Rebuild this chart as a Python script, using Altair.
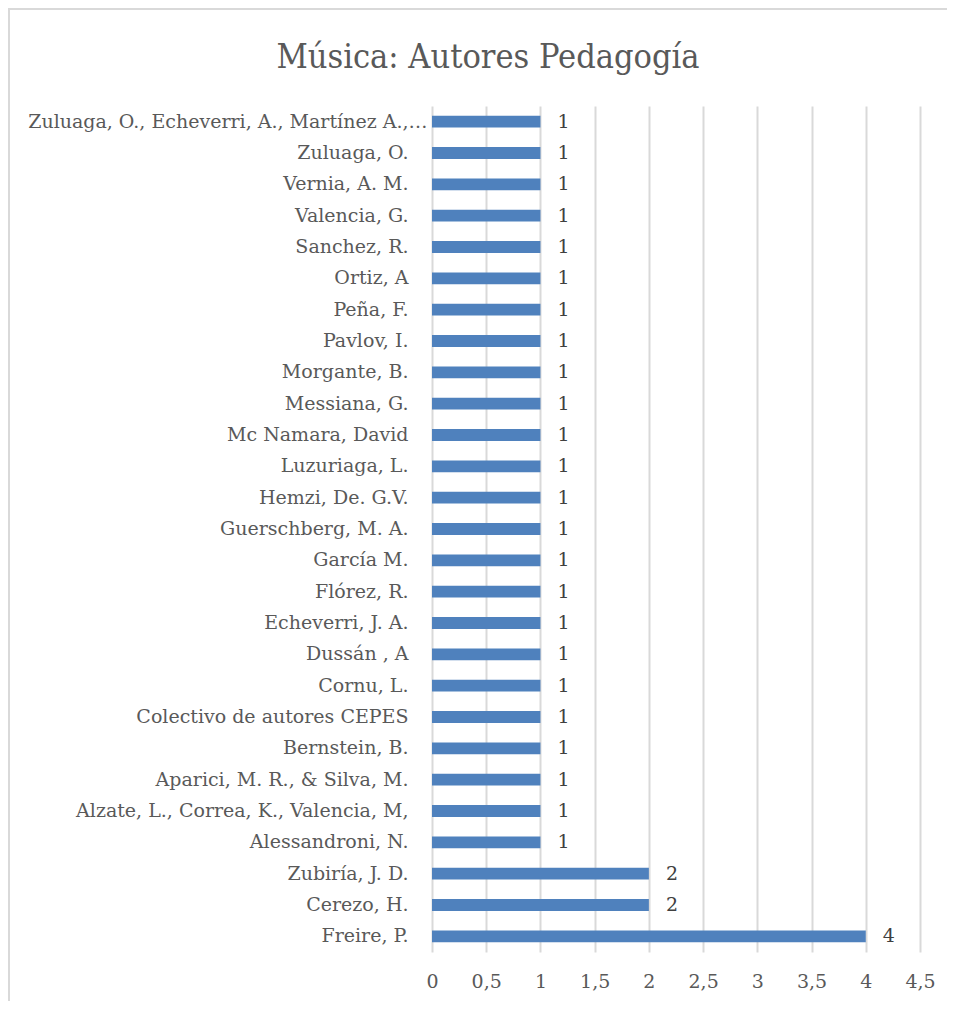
import altair as alt
import pandas as pd

authors = [
    "Zuluaga, O., Echeverri, A., Martínez A.,…",
    "Zuluaga, O.\u00a0",
    "Vernia, A. M.",
    "Valencia, G.",
    "Sanchez, R.",
    "Ortiz, A",
    "Peña, F.",
    "Pavlov, I.",
    "Morgante, B.",
    "Messiana, G.",
    "Mc Namara, David",
    "Luzuriaga, L.",
    "Hemzi, De. G.V.",
    "Guerschberg, M. A.\u00a0",
    "García M.",
    "Flórez, R.",
    "Echeverri, J. A.",
    "Dussán , A",
    "Cornu, L.",
    "Colectivo de autores CEPES",
    "Bernstein, B.",
    "Aparici, M. R., & Silva, M.",
    "Alzate, L., Correa, K., Valencia, M,",
    "Alessandroni, N.",
    "Zubiría, J. D.",
    "Cerezo, H.",
    "Freire, P.",
]
counts = [1, 1, 1, 1, 1, 1, 1, 1, 1, 1, 1, 1, 1, 1, 1, 1, 1, 1, 1, 1, 1, 1, 1, 1, 2, 2, 4]
x_ticks = [0, 0.5, 1, 1.5, 2, 2.5, 3, 3.5, 4, 4.5]
title_text = "Música: Autores Pedagogía"

df = pd.DataFrame({"author": authors, "count": counts})

SERIF = "DejaVu Serif"
GRID = "#d9d9d9"
FS = 19

y_enc = alt.Y(
    "author:N",
    sort=authors,
    scale=alt.Scale(paddingInner=0.62, paddingOuter=0.31),
    axis=alt.Axis(
        title=None,
        ticks=False,
        domain=False,
        labelFont=SERIF,
        labelFontSize=FS,
        labelColor="#595959",
        labelLimit=600,
        labelPadding={"condition": {"test": "indexof(datum.value, '…') >= 0", "value": 5}, "value": 24},
    ),
)
x_enc = alt.X(
    "count:Q",
    scale=alt.Scale(domain=[0, 4.5], nice=False),
    axis=alt.Axis(
        title=None,
        values=x_ticks,
        grid=True,
        gridColor=GRID,
        gridWidth=2,
        ticks=False,
        domain=False,
        labelFlush=False,
        labelFont=SERIF,
        labelFontSize=FS,
        labelColor="#595959",
        labelPadding=20,
        labelExpr="replace(toString(datum.value), '.', ',')",
    ),
)

base = alt.Chart(df)
bars = base.mark_bar(color="#4f81bd").encode(x=x_enc, y=y_enc)
labels = base.mark_text(
    align="left", baseline="middle", dx=17, font=SERIF, fontSize=FS, color="#404040"
).encode(x="count:Q", y=alt.Y("author:N", sort=authors), text="count:Q")

deco = alt.Chart(alt.Data(values=[{"k": 1}]))
border_left = deco.mark_rule(stroke=GRID, strokeWidth=2).encode(
    x=alt.value(-423), y=alt.value(-98), y2=alt.value(900)
)
border_top = deco.mark_rule(stroke=GRID, strokeWidth=2).encode(
    x=alt.value(-424), x2=alt.value(520), y=alt.value(-97)
)
title = deco.mark_text(
    align="center",
    baseline="alphabetic",
    font="DejaVu Serif Condensed, DejaVu Serif",
    fontSize=34,
    color="#595959",
).encode(x=alt.value(56), y=alt.value(-38), text=alt.value(title_text))

chart = alt.layer(bars, labels, border_left, border_top, title).properties(
    width=488,
    height=846,
    autosize=alt.AutoSizeParams(type="none"),
    padding={"left": 424, "top": 98, "right": 27, "bottom": 49},
).configure_view(stroke=None)

chart.save("out.html", embed_options={"renderer": "svg", "actions": False})
